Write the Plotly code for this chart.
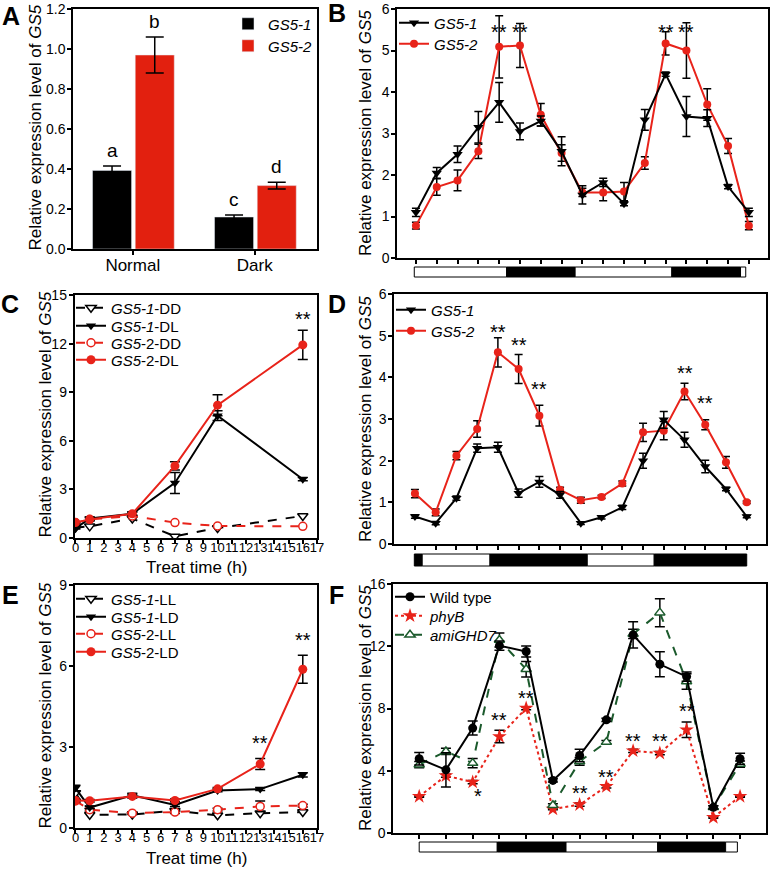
import plotly.graph_objects as go

W, H = 771, 870
FONT = "Liberation Sans, Arial, Helvetica, sans-serif"
RED = "#E8231A"
BAR_RED = "#E2200F"
GREEN = "#1B5A2C"

# ---------------- data ----------------
# Panel A
a_categories = ["Normal", "Dark"]
a_gs51 = [0.393, 0.160]
a_gs51_err = [0.022, 0.010]
a_gs52 = [0.970, 0.317]
a_gs52_err = [0.090, 0.017]
a_letters_gs51 = ["a", "c"]
a_letters_gs52 = ["b", "d"]

# Panel B (17 sampling points)
b_gs51 = [1.10, 2.05, 2.50, 3.15, 3.75, 3.05, 3.30, 2.57, 1.52, 1.82, 1.31, 3.33, 4.43, 3.41, 3.37, 1.72, 1.10]
b_gs51_err = [0.10, 0.13, 0.20, 0.38, 0.48, 0.20, 0.12, 0.35, 0.22, 0.10, 0.05, 0.25, 0.05, 0.48, 0.20, 0.05, 0.10]
b_gs52 = [0.78, 1.71, 1.87, 2.57, 5.09, 5.12, 3.45, 2.53, 1.58, 1.58, 1.60, 2.29, 5.17, 5.00, 3.70, 2.70, 0.78]
b_gs52_err = [0.08, 0.20, 0.25, 0.17, 0.75, 0.53, 0.27, 0.20, 0.10, 0.20, 0.22, 0.15, 0.28, 0.67, 0.38, 0.18, 0.10]
b_sig_idx = [4, 5, 12, 13]
b_sig_y = [5.45, 5.45, 5.45, 5.45]
b_photo_edges = [-0.08, 4.36, 7.65, 12.30, 15.60, 15.85]
b_photo_fill = ["white", "black", "white", "black", "white"]

# Panel C
c_time = [0, 1, 4, 7, 10, 16]
c_gs51_dd = [0.64, 0.72, 1.20, 0.10, 0.62, 1.36]
c_gs51_dl = [0.60, 1.20, 1.50, 3.40, 7.55, 3.63]
c_gs51_dl_err = [0.05, 0.10, 0.10, 0.65, 0.30, 0.10]
c_gs52_dd = [0.95, 1.15, 1.36, 0.95, 0.74, 0.72]
c_gs52_dl = [0.95, 1.15, 1.50, 4.45, 8.20, 11.92]
c_gs52_dl_err = [0.05, 0.10, 0.10, 0.25, 0.65, 0.90]
c_sig_x = [16]
c_sig_y = [13.5]

# Panel D
d_gs51 = [0.66, 0.50, 1.10, 2.30, 2.32, 1.22, 1.49, 1.18, 0.50, 0.64, 0.88, 2.00, 2.98, 2.50, 1.86, 1.32, 0.66]
d_gs51_err = [0.04, 0.04, 0.05, 0.10, 0.12, 0.10, 0.13, 0.08, 0.03, 0.04, 0.05, 0.18, 0.20, 0.18, 0.15, 0.04, 0.03]
d_gs52 = [1.21, 0.76, 2.12, 2.76, 4.60, 4.20, 3.08, 1.30, 1.05, 1.13, 1.45, 2.68, 2.72, 3.66, 2.86, 1.96, 1.00]
d_gs52_err = [0.10, 0.08, 0.10, 0.20, 0.35, 0.35, 0.25, 0.06, 0.07, 0.04, 0.06, 0.22, 0.22, 0.20, 0.12, 0.14, 0.03]
d_sig_idx = [4, 5, 6, 13, 14]
d_sig_y = [5.10, 4.78, 3.72, 4.10, 3.38]
d_photo_edges = [-0.03, 0.35, 3.62, 8.31, 11.54, 16.0]
d_photo_fill = ["black", "white", "black", "white", "black"]

# Panel E
e_time = [0, 1, 4, 7, 10, 13, 16]
e_gs51_ll = [1.30, 0.49, 0.50, 0.64, 0.47, 0.55, 0.59]
e_gs51_ld = [1.48, 0.76, 1.21, 0.85, 1.39, 1.44, 1.97]
e_gs51_ld_err = [0.10, 0.05, 0.08, 0.05, 0.05, 0.05, 0.08]
e_gs52_ll = [1.00, 0.68, 0.55, 0.59, 0.68, 0.80, 0.83]
e_gs52_ll_err = [0.05, 0.05, 0.05, 0.05, 0.05, 0.20, 0.05]
e_gs52_ld = [1.02, 1.01, 1.17, 1.02, 1.45, 2.37, 5.88]
e_gs52_ld_err = [0.05, 0.05, 0.06, 0.05, 0.05, 0.20, 0.52]
e_sig_x = [13, 16]
e_sig_y = [3.14, 6.97]

# Panel F (13 sampling points)
f_wt = [4.77, 4.06, 6.74, 12.04, 11.66, 3.38, 4.98, 7.27, 12.73, 10.84, 10.05, 1.65, 4.77]
f_wt_err = [0.40, 1.10, 0.45, 0.30, 0.35, 0.10, 0.40, 0.10, 0.85, 0.80, 0.30, 0.10, 0.35]
f_phyb = [2.35, 3.68, 3.27, 6.20, 8.02, 1.54, 1.82, 2.99, 5.28, 5.13, 6.63, 1.00, 2.35]
f_phyb_err = [0.05, 0.10, 0.10, 0.40, 0.10, 0.05, 0.10, 0.10, 0.10, 0.10, 0.50, 0.05, 0.05]
f_ami = [4.39, 5.24, 4.49, 12.40, 10.52, 1.78, 4.60, 5.84, 12.79, 14.16, 9.73, 1.65, 4.43]
f_ami_err = [0.20, 0.20, 0.30, 0.45, 0.50, 0.10, 0.25, 0.10, 0.30, 0.90, 0.50, 0.10, 0.20]
f_sig_idx = [2, 3, 4, 6, 7, 8, 9, 10]
f_sig_txt = ["*", "**", "**", "**", "**", "**", "**", "**"]
f_sig_y = [2.35, 7.27, 8.66, 2.57, 3.57, 5.88, 5.88, 7.81]
f_photo_edges = [0.0, 2.92, 5.49, 8.92, 11.46, 11.90]
f_photo_fill = ["white", "black", "white", "black", "white"]

# ---------------- helpers ----------------
def px(x):
    return x / W

def py(y):
    return 1 - y / H

def dom_x(a, b):
    return [px(a), px(b)]

def dom_y(top, bottom):
    return [py(bottom), py(top)]

fig = go.Figure()
legend_layouts = {}
legend_counter = [0]

def new_legend(sym_cx, cy, size=15):
    legend_counter[0] += 1
    n = legend_counter[0]
    key = "legend" if n == 1 else f"legend{n}"
    legend_layouts[key] = dict(
        x=px(sym_cx - 22), y=py(cy - 2), xanchor="left", yanchor="middle",
        bgcolor="rgba(0,0,0,0)", borderwidth=0,
        font=dict(family=FONT, size=size, color="black"),
        itemwidth=30, tracegroupgap=0,
    )
    return key

def err(vals, width=4):
    return dict(type="data", array=vals, visible=True, color="black", thickness=1.5, width=width)

def line_trace(x, y, name, xa, ya, color, symbol, fill, dash="solid", e=None, ew=4, size=9, leg=None, lw=2):
    return go.Scatter(
        x=x, y=y, name=name, mode="lines+markers", xaxis=xa, yaxis=ya,
        line=dict(color=color, width=lw, dash=dash),
        marker=dict(symbol=symbol, size=size, color=fill,
                    line=dict(color=color, width=1.5 if fill == "white" else 0)),
        error_y=err(e, ew) if e is not None else None,
        legend=leg, showlegend=leg is not None,
    )

# ---------------- Panel A ----------------
legA1 = new_legend(250, 26)
legA2 = new_legend(250, 48)
fig.add_trace(go.Bar(x=a_categories, y=a_gs51, name="<i>GS5-1</i>", marker_color="black",
                     offset=-0.33, width=0.32, error_y=err(a_gs51_err, 9), xaxis="x", yaxis="y",
                     legend=legA1))
fig.add_trace(go.Bar(x=a_categories, y=a_gs52, name="<i>GS5-2</i>", marker_color=BAR_RED,
                     offset=0.02, width=0.32, error_y=err(a_gs52_err, 9), xaxis="x", yaxis="y",
                     legend=legA2))

annotations = []
for i, cat in enumerate(a_categories):
    annotations.append(dict(x=i - 0.17, y=a_gs51[i] + a_gs51_err[i], xref="x", yref="y",
                            text=a_letters_gs51[i], showarrow=False, yanchor="bottom", yshift=3,
                            font=dict(family=FONT, size=19, color="black")))
    annotations.append(dict(x=i + 0.18, y=a_gs52[i] + a_gs52_err[i], xref="x", yref="y",
                            text=a_letters_gs52[i], showarrow=False, yanchor="bottom", yshift=3,
                            font=dict(family=FONT, size=19, color="black")))

# ---------------- Panel B ----------------
b_x = list(range(len(b_gs51)))
legB1 = new_legend(416, 25)
legB2 = new_legend(416, 46)
fig.add_trace(line_trace(b_x, b_gs52, "<i>GS5-2</i>", "x2", "y2", RED, "circle", RED, e=b_gs52_err, leg=legB2, size=8))
fig.add_trace(line_trace(b_x, b_gs51, "<i>GS5-1</i>", "x2", "y2", "black", "triangle-down", "black", e=b_gs51_err, leg=legB1))

# ---------------- Panel C ----------------
legC = [new_legend(93, 310), new_legend(93, 328), new_legend(93, 345), new_legend(93, 362)]
fig.add_trace(line_trace(c_time, c_gs51_dd, "<i>GS5-1</i>-DD", "x3", "y3", "black", "triangle-down", "white", dash="dash", leg=legC[0]))
fig.add_trace(line_trace(c_time, c_gs52_dd, "<i>GS5</i>-2-DD", "x3", "y3", RED, "circle", "white", dash="dash", leg=legC[2], size=8))
fig.add_trace(line_trace(c_time, c_gs51_dl, "<i>GS5-1</i>-DL", "x3", "y3", "black", "triangle-down", "black", e=c_gs51_dl_err, ew=5, leg=legC[1]))
fig.add_trace(line_trace(c_time, c_gs52_dl, "<i>GS5</i>-2-DL", "x3", "y3", RED, "circle", RED, e=c_gs52_dl_err, ew=5, leg=legC[3], size=9))

# ---------------- Panel D ----------------
d_x = list(range(len(d_gs51)))
legD1 = new_legend(413, 312)
legD2 = new_legend(413, 333)
fig.add_trace(line_trace(d_x, d_gs52, "<i>GS5-2</i>", "x4", "y4", RED, "circle", RED, e=d_gs52_err, leg=legD2, size=8))
fig.add_trace(line_trace(d_x, d_gs51, "<i>GS5-1</i>", "x4", "y4", "black", "triangle-down", "black", e=d_gs51_err, leg=legD1))

# ---------------- Panel E ----------------
legE = [new_legend(93, 601), new_legend(93, 619), new_legend(93, 636), new_legend(93, 654)]
fig.add_trace(line_trace(e_time, e_gs51_ll, "<i>GS5-1</i>-LL", "x5", "y5", "black", "triangle-down", "white", dash="dash", leg=legE[0]))
fig.add_trace(line_trace(e_time, e_gs52_ll, "<i>GS5</i>-2-LL", "x5", "y5", RED, "circle", "white", dash="dash", e=e_gs52_ll_err, ew=5, leg=legE[2], size=8))
fig.add_trace(line_trace(e_time, e_gs51_ld, "<i>GS5-1</i>-LD", "x5", "y5", "black", "triangle-down", "black", e=e_gs51_ld_err, ew=5, leg=legE[1]))
fig.add_trace(line_trace(e_time, e_gs52_ld, "<i>GS5</i>-2-LD", "x5", "y5", RED, "circle", RED, e=e_gs52_ld_err, ew=5, leg=legE[3], size=9))

# ---------------- Panel F ----------------
f_x = list(range(len(f_wt)))
legF = [new_legend(412, 599), new_legend(412, 618), new_legend(412, 637)]
fig.add_trace(line_trace(f_x, f_phyb, "<i>phyB</i>", "x6", "y6", RED, "star", RED, dash="dot", e=f_phyb_err, ew=5, leg=legF[1], size=11))
fig.add_trace(line_trace(f_x, f_ami, "<i>amiGHD7</i>", "x6", "y6", GREEN, "triangle-up", "white", dash="dash", e=f_ami_err, ew=5, leg=legF[2], size=9))
fig.add_trace(line_trace(f_x, f_wt, "Wild type", "x6", "y6", "black", "circle", "black", e=f_wt_err, ew=5, leg=legF[0], size=9))

# ---------------- significance marks ----------------
def stars(xs, ys, xa, ya, texts=None):
    for k, (xv, yv) in enumerate(zip(xs, ys)):
        annotations.append(dict(x=xv, y=yv, xref=xa, yref=ya, text=(texts[k] if texts else "**"),
                                showarrow=False, yanchor="middle", yshift=0,
                                font=dict(family=FONT, size=20, color="black")))

stars(b_sig_idx, b_sig_y, "x2", "y2")
stars(c_sig_x, c_sig_y, "x3", "y3")
stars(d_sig_idx, d_sig_y, "x4", "y4")
stars(e_sig_x, e_sig_y, "x5", "y5")
stars([i + 0.2 if t == "*" else i for i, t in zip(f_sig_idx, f_sig_txt)], f_sig_y, "x6", "y6", f_sig_txt)

# ---------------- photoperiod bars ----------------
shapes = []
def photobar(edges, fills, xa, top, bottom):
    for k in range(len(fills)):
        shapes.append(dict(type="rect", xref=xa, yref="paper", x0=edges[k], x1=edges[k + 1],
                           y0=py(bottom), y1=py(top), fillcolor=fills[k],
                           line=dict(color="black", width=1)))

photobar(b_photo_edges, b_photo_fill, "x2", 267, 277)
photobar(d_photo_edges, d_photo_fill, "x4", 554, 566)
photobar(f_photo_edges, f_photo_fill, "x6", 842, 852)

# ---------------- text labels ----------------
title = "Relative expression level of <i>GS5</i>"
for (xc, yc) in [(34.5, 128), (365, 133), (44.5, 415), (365, 419), (44.5, 706), (365, 708)]:
    annotations.append(dict(x=px(xc), y=py(yc), xref="paper", yref="paper", text=title,
                            textangle=-90, showarrow=False, xanchor="center", yanchor="middle",
                            font=dict(family=FONT, size=17, color="black")))
for (xc, yc) in [(196, 567), (196, 858)]:
    annotations.append(dict(x=px(xc), y=py(yc), xref="paper", yref="paper", text="Treat time (h)",
                            showarrow=False, xanchor="center", yanchor="middle",
                            font=dict(family=FONT, size=17, color="black")))
for (lab, xc, yc) in [("A", 11, 16), ("B", 337, 13), ("C", 10, 304), ("D", 337, 304), ("E", 10, 595), ("F", 336, 595)]:
    annotations.append(dict(x=px(xc), y=py(yc), xref="paper", yref="paper", text=f"<b>{lab}</b>",
                            showarrow=False, xanchor="center", yanchor="middle",
                            font=dict(family=FONT, size=25, color="black")))

# ---------------- axes ----------------
def axis(domain, anchor, **kw):
    d = dict(domain=domain, anchor=anchor, showline=True, linecolor="black", linewidth=1.5,
             mirror=True, ticks="outside", ticklen=4, tickwidth=1.5, tickcolor="black",
             showgrid=False, zeroline=False, tickangle=0, automargin=False,
             tickfont=dict(family=FONT, size=14, color="black"))
    d.update(kw)
    return d

time_font = dict(family=FONT, size=13, color="black")
layout = dict(
    width=W, height=H, margin=dict(l=0, r=0, t=0, b=0, pad=0, autoexpand=False),
    paper_bgcolor="white", plot_bgcolor="white",
    font=dict(family=FONT, color="black"),
    showlegend=True, barmode="overlay",
    # A
    xaxis=axis(dom_x(73, 317), "y", range=[-0.49, 1.51], type="category",
               ticklabelstandoff=-4, tickfont=dict(family=FONT, size=17, color="black")),
    yaxis=axis(dom_y(9, 249), "x", range=[0, 1.2], dtick=0.2, tickformat=".1f", ticklabelstandoff=-1),
    # B
    xaxis2=axis(dom_x(397, 768), "y2", range=[-0.91, 16.92], tickvals=b_x, showticklabels=False),
    yaxis2=axis(dom_y(9, 258), "x2", range=[0, 6], dtick=1, ticklabelstandoff=-1),
    # C
    xaxis3=axis(dom_x(74.5, 317), "y3", range=[-0.07, 17.0], dtick=1, tick0=0,
                ticklabelstandoff=-7, tickfont=time_font),
    yaxis3=axis(dom_y(295, 538), "x3", range=[0, 15], dtick=3, ticklabelstandoff=-1),
    # D
    xaxis4=axis(dom_x(394, 766), "y4", range=[-1.01, 16.93], tickvals=d_x, showticklabels=False),
    yaxis4=axis(dom_y(294, 544), "x4", range=[0, 6], dtick=1, ticklabelstandoff=-1),
    # E
    xaxis5=axis(dom_x(74.5, 317), "y5", range=[-0.07, 17.0], dtick=1, tick0=0,
                ticklabelstandoff=-7, tickfont=time_font),
    yaxis5=axis(dom_y(585, 828), "x5", range=[0, 9], dtick=3, ticklabelstandoff=-1),
    # F
    xaxis6=axis(dom_x(393, 766), "y6", range=[-0.98, 12.97], tickvals=f_x, showticklabels=False),
    yaxis6=axis(dom_y(584, 833), "x6", range=[0, 16], dtick=4, ticklabelstandoff=-1),
    annotations=annotations,
    shapes=shapes,
)
layout.update(legend_layouts)
fig.update_layout(**layout)

# remove the browser's default 8px page margin so the figure sits at the window origin
fig.write_html("out.html", config={"displayModeBar": False},
               post_script="document.body.style.margin='0px';")
